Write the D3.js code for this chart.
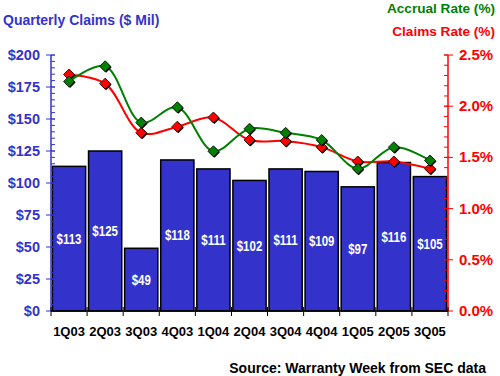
<!DOCTYPE html>
<html><head><meta charset="utf-8">
<script src="https://cdn.jsdelivr.net/npm/d3@7"></script>
<style>
body{margin:0;background:#fff;}
svg{display:block;font-family:"Liberation Sans",Arial,sans-serif;}
</style></head>
<body>
<svg id="chart" width="500" height="376"></svg>
<script>
const quarters = ["1Q03","2Q03","3Q03","4Q03","1Q04","2Q04","3Q04","4Q04","1Q05","2Q05","3Q05"];
const claims = [113,125,49,118,111,102,111,109,97,116,105];
const accrualRate = [2.24,2.39,1.84,1.99,1.56,1.78,1.74,1.67,1.39,1.60,1.47];
const claimsRate = [2.31,2.22,1.74,1.80,1.89,1.67,1.66,1.60,1.46,1.46,1.39];
const leftTicks = [0,25,50,75,100,125,150,175,200];
const rightTicks = [0,0.5,1.0,1.5,2.0,2.5];

const BLUE = "#3333CC", RED = "#FF0000", GREEN = "#008000";
const svg = d3.select("#chart");
const L = 51, R = 448, T = 55, B = 311;

const x = d3.scaleBand().domain(quarters).range([L, R]).paddingInner(0.08).paddingOuter(0.04);
const yL = d3.scaleLinear().domain([0,200]).range([B, T]);
const yR = d3.scaleLinear().domain([0,2.5]).range([B, T]);

// bars
svg.append("g").selectAll("rect").data(claims).join("rect")
  .attr("x", (d,i) => x(quarters[i]))
  .attr("y", d => yL(d))
  .attr("width", x.bandwidth())
  .attr("height", d => B - yL(d))
  .attr("fill", BLUE).attr("stroke", "#000").attr("stroke-width", 1.5);

// bar labels (condensed)
svg.append("g").selectAll("text").data(claims).join("text")
  .attr("transform", (d,i) => `translate(${x(quarters[i]) + x.bandwidth()/2},${(yL(d) + B)/2 + 5}) scale(0.82,1)`)
  .attr("text-anchor", "middle")
  .attr("fill", "#fff")
  .style("font-weight", "bold").style("font-size", "14px")
  .text(d => "$" + d);

// left axis
const gL = svg.append("g").attr("transform", `translate(${L},0)`);
gL.append("line").attr("y1", T).attr("y2", B).attr("stroke", BLUE).attr("stroke-width", 1.5);
gL.selectAll(".minor").data(d3.range(0, 201, 5)).join("line")
  .attr("x1", 0).attr("x2", 4).attr("y1", d => yL(d)).attr("y2", d => yL(d))
  .attr("stroke", BLUE).attr("stroke-width", 1);
gL.selectAll(".major").data(leftTicks).join("line")
  .attr("x1", -5).attr("x2", 4).attr("y1", d => yL(d)).attr("y2", d => yL(d))
  .attr("stroke", BLUE).attr("stroke-width", 1);
gL.selectAll("text").data(leftTicks).join("text")
  .attr("x", -11).attr("y", d => yL(d) + 5)
  .attr("text-anchor", "end").attr("fill", BLUE)
  .style("font-weight", "bold").style("font-size", "14.5px")
  .text(d => "$" + d);

// right axis
const gR = svg.append("g").attr("transform", `translate(${R},0)`);
gR.append("line").attr("y1", T).attr("y2", B).attr("stroke", RED).attr("stroke-width", 1.5);
gR.selectAll(".minor").data(d3.range(0, 26).map(d => d/10)).join("line")
  .attr("x1", -4).attr("x2", 0).attr("y1", d => yR(d)).attr("y2", d => yR(d))
  .attr("stroke", RED).attr("stroke-width", 1);
gR.selectAll(".major").data(rightTicks).join("line")
  .attr("x1", -4).attr("x2", 5).attr("y1", d => yR(d)).attr("y2", d => yR(d))
  .attr("stroke", RED).attr("stroke-width", 1);
gR.selectAll("text").data(rightTicks).join("text")
  .attr("x", 11).attr("y", d => yR(d) + 5)
  .attr("text-anchor", "start").attr("fill", RED)
  .style("font-weight", "bold").style("font-size", "15px")
  .text(d => d.toFixed(1) + "%");

// bottom axis
const gB = svg.append("g");
gB.append("line").attr("x1", L).attr("x2", R).attr("y1", B).attr("y2", B).attr("stroke", "#000").attr("stroke-width", 1.5);
gB.selectAll(".tick").data(d3.range(0, quarters.length + 1)).join("line")
  .attr("x1", i => L + (R - L) * i / quarters.length)
  .attr("x2", i => L + (R - L) * i / quarters.length)
  .attr("y1", B - 4).attr("y2", B + 5)
  .attr("stroke", "#000").attr("stroke-width", 1);
gB.selectAll("text").data(quarters).join("text")
  .attr("x", d => x(d) + x.bandwidth()/2).attr("y", 336)
  .attr("text-anchor", "middle").attr("fill", "#000")
  .style("font-weight", "bold").style("font-size", "13px")
  .text(d => d);

// lines
const line = d3.line()
  .x((d,i) => x(quarters[i]) + x.bandwidth()/2)
  .y(d => yR(d))
  .curve(d3.curveCatmullRom.alpha(0.5));

function series(vals, color) {
  svg.append("path").datum(vals).attr("d", line)
    .attr("fill", "none").attr("stroke", color).attr("stroke-width", 2);
  const diamond = "M0,-5.5L5.5,0L0,5.5L-5.5,0Z";
  const g = svg.append("g");
  g.selectAll(".sh").data(vals).join("path")
    .attr("d", diamond)
    .attr("transform", (d,i) => `translate(${x(quarters[i]) + x.bandwidth()/2 + 1},${yR(d) + 1})`)
    .attr("fill", "#000");
  g.selectAll(".mk").data(vals).join("path")
    .attr("d", diamond)
    .attr("transform", (d,i) => `translate(${x(quarters[i]) + x.bandwidth()/2},${yR(d)})`)
    .attr("fill", color).attr("stroke", "#000").attr("stroke-width", 0.8);
}
series(claimsRate, RED);
series(accrualRate, GREEN);

// titles
svg.append("text").attr("x", 3).attr("y", 25).attr("fill", BLUE)
  .style("font-weight", "bold").style("font-size", "14px").text("Quarterly Claims ($ Mil)");
svg.append("text").attr("x", 495).attr("y", 13).attr("text-anchor", "end").attr("fill", GREEN)
  .style("font-weight", "bold").style("font-size", "13.6px").text("Accrual Rate (%)");
svg.append("text").attr("x", 495).attr("y", 36).attr("text-anchor", "end").attr("fill", RED)
  .style("font-weight", "bold").style("font-size", "13.6px").text("Claims Rate (%)");
svg.append("text").attr("x", 486).attr("y", 373).attr("text-anchor", "end").attr("fill", "#000")
  .style("font-weight", "bold").style("font-size", "14px").text("Source: Warranty Week from SEC data");
</script>
</body></html>
